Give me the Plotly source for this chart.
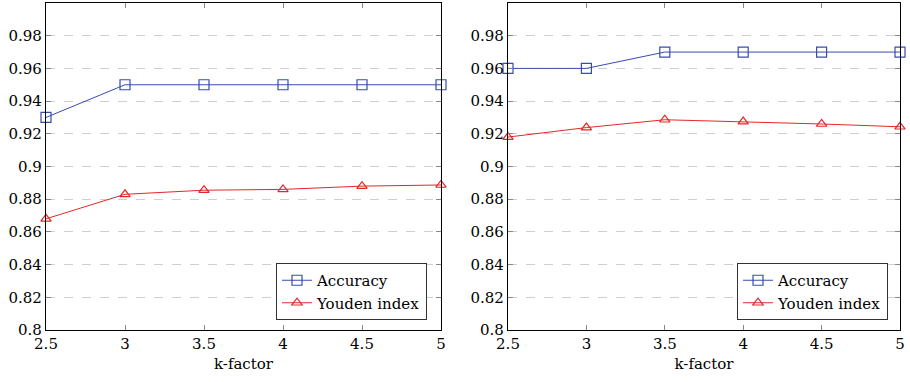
import plotly.graph_objects as go
from plotly.subplots import make_subplots

k_factor = [2.5, 3, 3.5, 4, 4.5, 5]
acc_left = [0.93, 0.95, 0.95, 0.95, 0.95, 0.95]
youden_left = [0.868, 0.883, 0.8855, 0.886, 0.888, 0.8887]
acc_right = [0.96, 0.96, 0.97, 0.97, 0.97, 0.97]
youden_right = [0.918, 0.9238, 0.9286, 0.9275, 0.926, 0.9243]

y_ticks = [0.8, 0.82, 0.84, 0.86, 0.88, 0.9, 0.92, 0.94, 0.96, 0.98]
y_labels = ["0.8", "0.82", "0.84", "0.86", "0.88", "0.9", "0.92", "0.94", "0.96", "0.98"]
x_labels = ["2.5", "3", "3.5", "4", "4.5", "5"]

BLUE = "rgb(56,76,176)"
RED = "rgb(226,40,40)"
FONT = "DejaVu Serif, serif"
FS = 15

fig = make_subplots(rows=1, cols=2)

def add(col, acc, you, legend):
    fig.add_trace(go.Scatter(x=k_factor, y=acc, name="Accuracy", mode="lines+markers",
                             line=dict(color=BLUE, width=1),
                             marker=dict(symbol="square-open", size=10, color=BLUE, line=dict(width=1.2)),
                             cliponaxis=False, legend=legend), row=1, col=col)
    fig.add_trace(go.Scatter(x=k_factor, y=you, name="Youden index", mode="lines+markers",
                             line=dict(color=RED, width=1),
                             marker=dict(symbol="triangle-up-open", size=9, color=RED, line=dict(width=1.2)),
                             cliponaxis=False, legend=legend), row=1, col=col)

add(1, acc_left, youden_left, "legend")
add(2, acc_right, youden_right, "legend2")

axis_common = dict(showline=True, linecolor="black", linewidth=1.2, mirror="ticks",
                   ticks="inside", ticklen=5, tickcolor="#888", tickwidth=1, automargin=False,
                   tickfont=dict(family=FONT, size=FS, color="black"), zeroline=False)

for i, dom in [(1, [46/910, 441/910]), (2, [508/910, 900/910])]:
    fig.update_xaxes(row=1, col=i, domain=dom, range=[2.5, 5], tickvals=k_factor, ticktext=x_labels,
                     showgrid=False, title=dict(text="k-factor", font=dict(family=FONT, size=FS, color="black"), standoff=6),
                     **axis_common)
    fig.update_yaxes(row=1, col=i, domain=[52/382, 379/382], range=[0.8, 1.0], tickvals=y_ticks, ticktext=y_labels,
                     showgrid=True, gridcolor="#cfcfcf", griddash="dash", gridwidth=1,
                     **axis_common)

leg_common = dict(bgcolor="white", bordercolor="#333", borderwidth=1,
                  font=dict(family=FONT, size=FS, color="black"),
                  xanchor="right", yanchor="bottom", tracegroupgap=0, itemwidth=30)

fig.update_layout(
    width=910, height=382, margin=dict(l=0, r=0, t=0, b=0, autoexpand=False),
    plot_bgcolor="white", paper_bgcolor="white",
    legend=dict(x=427/910, y=62/382, **leg_common),
    legend2=dict(x=888/910, y=62/382, **leg_common),
)

fig.write_html("out.html", config={"displayModeBar": False},
               post_script="document.body.style.margin='0px';")
